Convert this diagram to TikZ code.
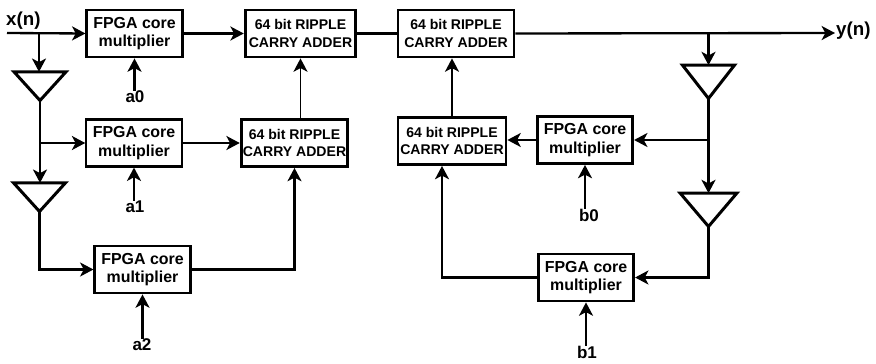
\documentclass[tikz,border=0pt]{standalone}
\usepackage{fontspec}
\setmainfont{Liberation Sans}
\usetikzlibrary{arrows.meta,shapes.geometric}
\tikzset{
  blockbox/.style={draw,line width=0.85mm,inner sep=0pt,align=center,font=\bfseries},
  multbox/.style={blockbox,minimum width=28.6mm,minimum height=14.1mm,font=\fontsize{13.6}{15.8}\selectfont\bfseries},
  addbox/.style={blockbox,minimum height=14.1mm,font=\fontsize{12}{15}\selectfont\bfseries},
  gaintri/.style={draw,line width=0.9mm,isosceles triangle,isosceles triangle stretches,shape border rotate=-90,inner sep=0pt,outer sep=0pt,anchor=apex,minimum width=15.6mm,minimum height=8.6mm},
  gaintall/.style={gaintri,minimum width=15.6mm,minimum height=10mm},
  coeflabel/.style={inner sep=0pt,font=\fontsize{14.5}{16}\selectfont\bfseries},
  siglabel/.style={inner sep=0pt,font=\fontsize{16}{18}\selectfont\bfseries},
  sigline/.style={line width=0.7mm,-{Stealth[length=4mm,width=4.2mm,inset=1.1mm]}},
  plainline/.style={line width=0.7mm}
}
\begin{document}
\begin{tikzpicture}[x=0.3mm,y=-0.3mm]
\useasboundingbox (0,0) rectangle (876,364);
% multipliers
\node[multbox] (mula0) at (134.5,33.5) {FPGA core\\multiplier};
\node[multbox,line width=0.65mm] (mula1) at (134,143) {FPGA core\\multiplier};
\node[multbox] (mula2) at (142.5,269.5) {FPGA core\\multiplier};
\node[multbox] (mulb0) at (585,140) {FPGA core\\multiplier};
\node[multbox] (mulb1) at (586,277.5) {FPGA core\\multiplier};
% adders
\node[addbox,minimum width=33.2mm] (addtop) at (300.5,33.5) {64 bit RIPPLE\\CARRY ADDER};
\node[addbox,minimum width=32mm] (addlow) at (294.5,143) {64 bit RIPPLE\\CARRY ADDER};
\node[addbox,minimum width=34.8mm] (addout) at (456,33.5) {64 bit RIPPLE\\CARRY ADDER};
\node[addbox,minimum width=32.4mm] (addfb) at (452,141) {64 bit RIPPLE\\CARRY ADDER};
% delay triangles
\node[gaintri] (trix0) at (40,100.5) {};
\node[gaintri] (trix1) at (39.5,211.5) {};
\node[gaintall] (triy0) at (708.5,98.5) {};
\node[gaintall,minimum width=17mm] (triy1) at (708.5,226.5) {};
% signal labels
\node[siglabel,anchor=south west] (xn) at (6,30) {x(n)};
\node[siglabel,anchor=west] (yn) at (836,31) {y(n)};
\node[coeflabel] (a0) at (135,97) {a0};
\node[coeflabel] (a1) at (135,207) {a1};
\node[coeflabel] (a2) at (142,345) {a2};
\node[coeflabel] (b0) at (589,215) {b0};
\node[coeflabel] (b1) at (587,352) {b1};
% tap points
\coordinate (xin) at (7,33);
\coordinate (xtap) at (39,33);
\coordinate (xtap2) at (40,143);
\coordinate (ytap) at (708.5,33);
\coordinate (ytap2) at (708.5,140);
\coordinate (yout) at (835,33);
% input side
\draw[sigline] (xin) -- (mula0.west);
\draw[sigline] (xtap) -- (xtap |- trix0.lower side);
\draw[sigline] (trix0.apex) -- (trix0.apex |- trix1.lower side);
\draw[sigline] (xtap2) -- (mula1.west);
\draw[sigline] (trix1.apex) |- (mula2.west);
\foreach \lab/\blk in {a0/mula0,a1/mula1,a2/mula2,b0/mulb0,b1/mulb1}{
  \draw[sigline] (\blk.south |- \lab.north) -- (\blk.south);
}
% adder chain
\draw[sigline] (mula0.east) -- (addtop.west |- mula0.east);
\draw[sigline] (mula1.east) -- (addlow.west);
\draw[sigline] (mula2.east) -| (addlow.south);
\draw[sigline,line width=0.55mm] (addtop.south |- addlow.north) -- (addtop.south);
\draw[plainline] (addtop.east) -- (addout.west);
% output and feedback
\draw[sigline] (addout.east) -- (yout);
\draw[sigline] (ytap) -- (triy0.lower side);
\draw[sigline,line width=0.95mm] (triy0.apex) -- (triy1.lower side);
\draw[sigline] (ytap2) -- (mulb0.east);
\draw[sigline] (triy1.apex) |- (mulb1.east);
\draw[sigline] (mulb0.west) -- (addfb.east |- mulb0.west);
\draw[sigline] (mulb1.west) -| ([xshift=-3mm]addfb.south);
\draw[sigline,line width=0.55mm] (addfb.north) -- (addfb.north |- addout.south);
\end{tikzpicture}
\end{document}
